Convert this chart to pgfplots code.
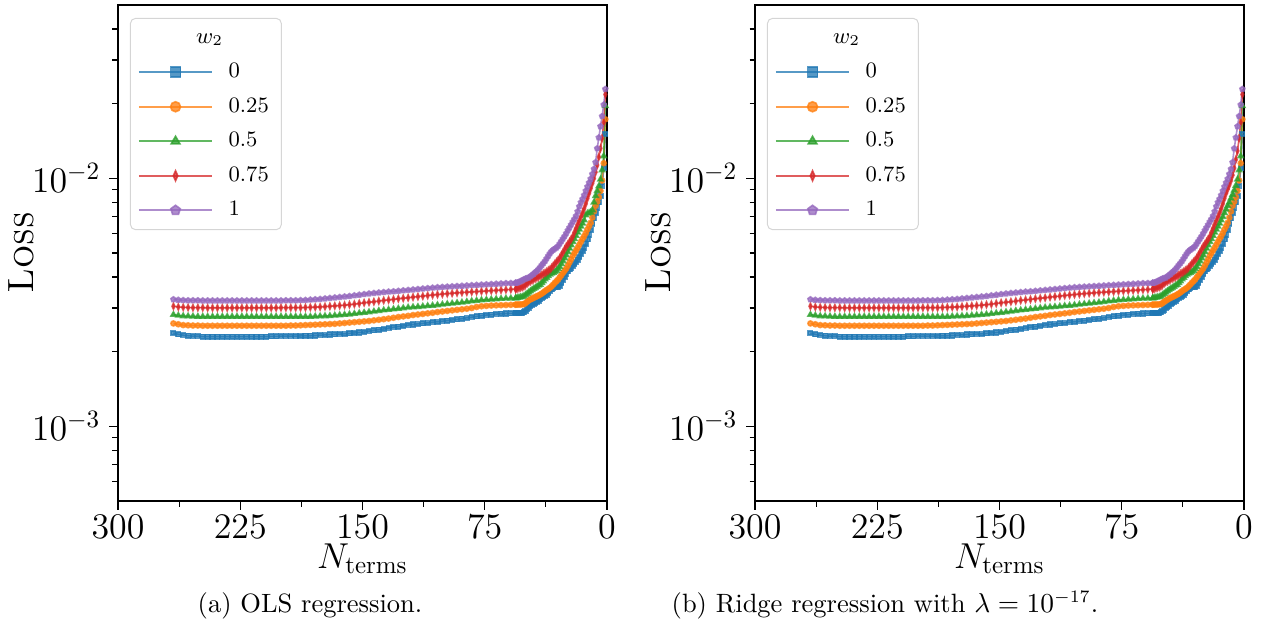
\documentclass[border=0pt]{standalone}
\usepackage{pgfplots}
\pgfplotsset{compat=1.18}
\usepackage{pgfplotstable}
\definecolor{c0}{RGB}{31,119,180}
\definecolor{c1}{RGB}{255,127,14}
\definecolor{c2}{RGB}{44,160,44}
\definecolor{c3}{RGB}{214,39,40}
\definecolor{c4}{RGB}{148,103,189}

% Loss values in units of 1e-3; b,o,g,r,p = w2 = 0, 0.25, 0.5, 0.75, 1
\pgfplotstableread{
N b o g r p
266 2.38 2.60 2.82 3.05 3.25
263 2.35 2.58 2.80 3.03 3.235
260 2.33 2.56 2.785 3.02 3.225
257 2.32 2.555 2.78 3.015 3.22
254 2.31 2.55 2.775 3.01 3.22
251 2.31 2.55 2.77 3.01 3.22
248 2.30 2.545 2.77 3.01 3.215
245 2.30 2.545 2.77 3.005 3.215
242 2.30 2.545 2.77 3.005 3.215
239 2.30 2.545 2.77 3.005 3.215
236 2.30 2.545 2.77 3.005 3.215
233 2.30 2.545 2.77 3.005 3.215
230 2.30 2.545 2.77 3.005 3.215
227 2.30 2.545 2.77 3.005 3.215
224 2.30 2.545 2.77 3.005 3.215
221 2.30 2.545 2.77 3.005 3.215
218 2.30 2.545 2.77 3.005 3.215
215 2.30 2.545 2.77 3.005 3.215
212 2.30 2.545 2.77 3.005 3.215
209 2.30 2.545 2.77 3.005 3.215
206 2.305 2.545 2.77 3.005 3.215
203 2.305 2.545 2.77 3.005 3.215
200 2.31 2.545 2.77 3.01 3.215
197 2.31 2.545 2.77 3.01 3.22
194 2.31 2.55 2.77 3.01 3.22
191 2.31 2.55 2.77 3.01 3.22
188 2.315 2.555 2.77 3.01 3.225
185 2.32 2.56 2.77 3.015 3.23
182 2.32 2.565 2.77 3.02 3.24
179 2.325 2.57 2.775 3.025 3.25
176 2.33 2.575 2.78 3.03 3.26
173 2.34 2.58 2.785 3.04 3.275
170 2.345 2.585 2.79 3.05 3.29
167 2.35 2.59 2.80 3.06 3.305
164 2.355 2.60 2.81 3.07 3.32
161 2.36 2.61 2.82 3.08 3.335
158 2.37 2.62 2.83 3.095 3.35
155 2.38 2.63 2.845 3.11 3.37
152 2.39 2.64 2.86 3.13 3.39
149 2.40 2.65 2.875 3.15 3.41
146 2.42 2.66 2.89 3.165 3.43
143 2.44 2.675 2.905 3.18 3.445
140 2.455 2.69 2.925 3.20 3.46
137 2.47 2.705 2.94 3.22 3.475
134 2.49 2.72 2.955 3.235 3.49
131 2.51 2.74 2.97 3.25 3.50
128 2.525 2.76 2.985 3.27 3.515
125 2.54 2.775 3.00 3.285 3.53
122 2.56 2.79 3.015 3.30 3.545
119 2.575 2.81 3.025 3.32 3.56
116 2.59 2.825 3.035 3.335 3.575
113 2.60 2.84 3.045 3.35 3.59
110 2.615 2.855 3.06 3.37 3.605
107 2.63 2.87 3.07 3.385 3.62
104 2.64 2.89 3.085 3.40 3.635
101 2.655 2.905 3.10 3.415 3.645
98 2.67 2.92 3.115 3.43 3.655
95 2.685 2.935 3.13 3.44 3.665
92 2.70 2.95 3.145 3.455 3.675
89 2.72 2.965 3.16 3.465 3.685
86 2.74 2.98 3.18 3.475 3.695
83 2.755 3.00 3.20 3.485 3.705
80 2.775 3.03 3.215 3.495 3.715
77 2.795 3.05 3.23 3.505 3.725
74 2.81 3.06 3.24 3.515 3.735
71 2.82 3.07 3.25 3.525 3.745
68 2.835 3.075 3.26 3.535 3.755
65 2.845 3.08 3.27 3.545 3.765
62 2.85 3.085 3.28 3.555 3.775
59 2.855 3.09 3.285 3.565 3.78
56 2.86 3.095 3.29 3.575 3.79
}\flattab

\pgfplotstableread{
N b o g r p
56 2.86 3.095 3.29 3.575 3.79
55 2.865 3.10 3.30 3.60 3.80
54 2.87 3.10 3.31 3.61 3.82
53 2.87 3.10 3.32 3.63 3.85
52 2.875 3.105 3.33 3.65 3.88
51 2.88 3.11 3.35 3.67 3.91
50 2.92 3.14 3.39 3.72 3.94
49 2.97 3.18 3.43 3.77 3.96
48 3.01 3.22 3.47 3.82 3.98
47 3.05 3.25 3.51 3.85 4.02
46 3.08 3.27 3.55 3.88 4.07
45 3.12 3.30 3.59 3.92 4.12
44 3.15 3.32 3.62 3.95 4.18
43 3.18 3.35 3.66 3.98 4.23
42 3.21 3.37 3.70 4.01 4.30
41 3.25 3.40 3.73 4.04 4.38
40 3.29 3.43 3.79 4.08 4.47
39 3.32 3.47 3.85 4.12 4.55
38 3.36 3.51 3.92 4.16 4.64
37 3.40 3.55 3.98 4.20 4.75
36 3.45 3.58 4.04 4.25 4.87
35 3.51 3.62 4.10 4.29 4.98
34 3.57 3.67 4.14 4.36 5.08
33 3.62 3.73 4.17 4.44 5.15
32 3.64 3.79 4.20 4.52 5.20
31 3.65 3.85 4.25 4.60 5.25
30 3.66 3.91 4.32 4.68 5.33
29 3.68 3.99 4.40 4.77 5.45
28 3.80 4.07 4.52 4.90 5.58
27 3.91 4.16 4.64 5.03 5.71
26 4.02 4.24 4.77 5.17 5.84
25 4.13 4.33 4.90 5.31 6.00
24 4.22 4.45 5.05 5.42 6.17
23 4.30 4.58 5.22 5.55 6.33
22 4.37 4.72 5.38 5.68 6.50
21 4.44 4.87 5.55 5.82 6.68
20 4.52 5.00 5.70 6.05 6.85
19 4.60 5.12 5.87 6.28 7.05
18 4.70 5.25 6.05 6.52 7.35
17 4.82 5.40 6.23 6.75 7.70
16 4.95 5.55 6.40 7.00 8.00
15 5.09 5.70 6.58 7.25 8.25
14 5.26 5.85 6.78 7.55 8.55
13 5.45 6.02 7.10 7.90 8.90
12 5.68 6.22 7.22 8.30 9.25
11 5.93 6.42 7.26 8.70 9.60
10 6.20 6.62 7.30 9.10 9.95
9 6.55 6.95 7.45 9.55 10.4
8 6.90 7.35 8.00 10.0 10.9
7 7.25 7.75 8.50 10.6 11.6
6 7.60 8.05 8.90 11.3 13.2
5 8.00 8.40 9.30 12.2 14.6
4 8.50 8.90 9.90 13.2 16.2
3 9.30 9.80 10.8 14.5 17.8
2 11.0 11.5 12.3 16.8 19.8
1 15.1 17.3 19.6 21.8 22.9
}\steepA

\pgfplotstableread{
N b o g r p
56 2.86 3.095 3.29 3.575 3.79
55 2.865 3.10 3.30 3.60 3.80
54 2.87 3.10 3.31 3.61 3.82
53 2.87 3.10 3.32 3.63 3.85
52 2.875 3.105 3.33 3.65 3.88
51 2.88 3.11 3.35 3.67 3.91
50 2.92 3.14 3.39 3.72 3.94
49 2.96 3.18 3.43 3.77 3.96
48 3.00 3.21 3.47 3.82 3.98
47 3.03 3.24 3.51 3.85 4.02
46 3.07 3.27 3.55 3.88 4.07
45 3.11 3.30 3.59 3.92 4.12
44 3.15 3.32 3.62 3.95 4.18
43 3.18 3.35 3.66 3.98 4.23
42 3.21 3.37 3.70 4.01 4.30
41 3.25 3.40 3.73 4.04 4.38
40 3.29 3.43 3.79 4.08 4.47
39 3.32 3.47 3.85 4.12 4.55
38 3.36 3.51 3.92 4.16 4.64
37 3.40 3.55 3.98 4.20 4.75
36 3.45 3.58 4.04 4.25 4.87
35 3.51 3.62 4.10 4.29 4.98
34 3.57 3.67 4.14 4.36 5.08
33 3.62 3.73 4.17 4.44 5.15
32 3.64 3.79 4.20 4.52 5.20
31 3.65 3.85 4.25 4.60 5.25
30 3.66 3.91 4.32 4.68 5.33
29 3.68 3.99 4.40 4.77 5.45
28 3.80 4.07 4.52 4.90 5.58
27 3.91 4.16 4.64 5.03 5.71
26 4.02 4.24 4.77 5.17 5.84
25 4.13 4.33 4.90 5.31 6.00
24 4.22 4.45 5.05 5.42 6.17
23 4.30 4.58 5.22 5.55 6.33
22 4.37 4.72 5.38 5.68 6.50
21 4.44 4.87 5.55 5.82 6.68
20 4.52 5.00 5.70 6.05 6.85
19 4.60 5.12 5.87 6.28 7.05
18 4.70 5.25 6.05 6.52 7.35
17 4.82 5.40 6.23 6.75 7.70
16 4.95 5.55 6.40 7.00 8.00
15 5.09 5.70 6.58 7.25 8.25
14 5.26 5.85 6.78 7.55 8.55
13 5.45 6.02 7.00 7.90 8.90
12 5.68 6.22 7.25 8.30 9.25
11 5.93 6.42 7.50 8.70 9.60
10 6.20 6.62 7.75 9.05 9.95
9 6.55 6.95 8.00 9.40 10.4
8 6.90 7.35 8.30 9.80 10.9
7 7.25 7.75 8.60 10.3 11.6
6 7.60 8.05 8.95 11.0 13.2
5 8.00 8.40 9.35 11.9 14.6
4 8.50 8.90 9.90 12.9 16.2
3 9.30 9.80 10.8 14.5 17.8
2 11.0 11.5 12.3 16.8 19.8
1 15.1 17.3 19.6 21.8 22.9
}\steepB

\pgfplotsset{
  sA/.style={color=c0, opacity=0.75, line width=0.65pt, mark=square*, mark size=0.9pt},
  sB/.style={color=c1, opacity=0.75, line width=0.65pt, mark=*, mark size=1.0pt},
  sC/.style={color=c2, opacity=0.75, line width=0.65pt, mark=triangle*, mark size=1.15pt},
  sD/.style={color=c3, opacity=0.75, line width=0.65pt, mark=diamond*, mark size=1.2pt, mark options={xscale=0.6}},
  sE/.style={color=c4, opacity=0.75, line width=0.65pt, mark=pentagon*, mark size=1.05pt},
}

\newcommand{\plotseries}[4]{%
  \addplot[#1, forget plot] table[x=N, y expr=\thisrow{#2}*0.001] {\flattab};
  \addplot[#1] table[x=N, y expr=\thisrow{#2}*0.001] {#3};
  \addlegendentry{#4}
}

\begin{document}
\begin{tikzpicture}
\path[use as bounding box] (0,0) rectangle (507.6pt,251.2pt);
\begin{axis}[
    scale only axis, width=195.6pt, height=198.4pt,
    xmin=0, xmax=300, x dir=reverse,
    ymode=log, ymin=5e-4, ymax=5e-2,
    xtick={0,75,150,225,300}, minor x tick num=1,
    ytick={1e-3,1e-2},
    minor ytick={6e-4,7e-4,8e-4,9e-4,2e-3,3e-3,4e-3,5e-3,6e-3,7e-3,8e-3,9e-3,2e-2,3e-2,4e-2},
    xtick pos=left, ytick pos=left, tick align=outside,
    major tick length=3.5pt, minor tick length=2.2pt,
    every tick/.append style={black, line width=0.45pt},
    axis line style={line width=0.7pt},
    tick label style={font=\fontsize{14.2}{16}\selectfont},
    xticklabel style={yshift=1.5pt},
    xlabel style={font=\fontsize{13.6}{16}\selectfont, yshift=4.5pt},
    ylabel style={font=\fontsize{14.6}{17}\selectfont},
    ylabel shift=-7.5pt,
    xlabel={$N_{\mathrm{terms}}$}, ylabel={\textsc{Loss}},
    legend cell align=left,
    legend style={at={(0.0245,0.974)}, anchor=north west,
      draw=black!20, rounded corners=2pt, fill=white, fill opacity=0.8,
      draw opacity=0.8, text opacity=1,
      font=\fontsize{8.8}{10}\selectfont,
      inner xsep=3pt, inner ysep=2pt, row sep=2.3pt, column sep=4.2pt,
      nodes={inner xsep=2pt, inner ysep=2pt, text height=6pt, text depth=1.5pt}},
    legend image code/.code={\draw[mark repeat=2, mark phase=2]
      plot coordinates {(0pt,0pt) (14.7pt,0pt) (29.4pt,0pt)};},
    legend image post style={mark size=2pt},
    at={(47.2pt,50.8pt)}, anchor=south west]
  \addlegendimage{empty legend}
  \addlegendentry{\hspace{-13pt}$w_2$}
  \plotseries{sA}{b}{\steepA}{0}
  \plotseries{sB}{o}{\steepA}{0.25}
  \plotseries{sC}{g}{\steepA}{0.5}
  \plotseries{sD}{r}{\steepA}{0.75}
  \plotseries{sE}{p}{\steepA}{1}
\end{axis}
\begin{axis}[
    scale only axis, width=195.6pt, height=198.4pt,
    xmin=0, xmax=300, x dir=reverse,
    ymode=log, ymin=5e-4, ymax=5e-2,
    xtick={0,75,150,225,300}, minor x tick num=1,
    ytick={1e-3,1e-2},
    minor ytick={6e-4,7e-4,8e-4,9e-4,2e-3,3e-3,4e-3,5e-3,6e-3,7e-3,8e-3,9e-3,2e-2,3e-2,4e-2},
    xtick pos=left, ytick pos=left, tick align=outside,
    major tick length=3.5pt, minor tick length=2.2pt,
    every tick/.append style={black, line width=0.45pt},
    axis line style={line width=0.7pt},
    tick label style={font=\fontsize{14.2}{16}\selectfont},
    xticklabel style={yshift=1.5pt},
    xlabel style={font=\fontsize{13.6}{16}\selectfont, yshift=4.5pt},
    ylabel style={font=\fontsize{14.6}{17}\selectfont},
    ylabel shift=-7.5pt,
    xlabel={$N_{\mathrm{terms}}$}, ylabel={\textsc{Loss}},
    legend cell align=left,
    legend style={at={(0.0245,0.974)}, anchor=north west,
      draw=black!20, rounded corners=2pt, fill=white, fill opacity=0.8,
      draw opacity=0.8, text opacity=1,
      font=\fontsize{8.8}{10}\selectfont,
      inner xsep=3pt, inner ysep=2pt, row sep=2.3pt, column sep=4.2pt,
      nodes={inner xsep=2pt, inner ysep=2pt, text height=6pt, text depth=1.5pt}},
    legend image code/.code={\draw[mark repeat=2, mark phase=2]
      plot coordinates {(0pt,0pt) (14.7pt,0pt) (29.4pt,0pt)};},
    legend image post style={mark size=2pt},
    at={(302pt,50.8pt)}, anchor=south west]
  \addlegendimage{empty legend}
  \addlegendentry{\hspace{-13pt}$w_2$}
  \plotseries{sA}{b}{\steepB}{0}
  \plotseries{sB}{o}{\steepB}{0.25}
  \plotseries{sC}{g}{\steepB}{0.5}
  \plotseries{sD}{r}{\steepB}{0.75}
  \plotseries{sE}{p}{\steepB}{1}
\end{axis}
\node[font=\fontsize{10.6}{12}\selectfont] at (124pt,9pt) {(a) OLS regression.};
\node[font=\fontsize{10.6}{12}\selectfont] at (354pt,9pt) {(b) Ridge regression with $\lambda=10^{-17}$.};
\end{tikzpicture}
\end{document}
